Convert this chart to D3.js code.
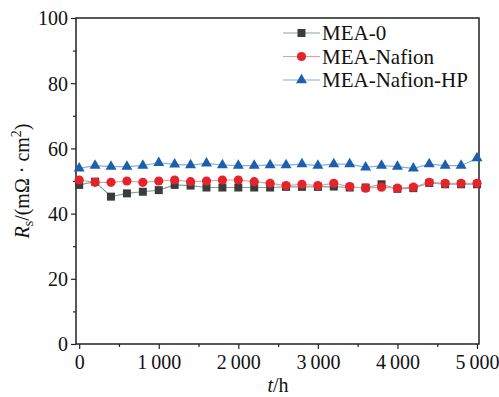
<!DOCTYPE html>
<html>
<head>
<meta charset="utf-8">
<script src="https://cdn.jsdelivr.net/npm/d3@7"></script>
<style>
  body { margin: 0; background: #fff; }
  svg text { font-family: "Liberation Serif", "Times New Roman", serif; fill: #111; }
</style>
</head>
<body>
<div id="chart"></div>
<script>
// time (h)
const hours = [0, 200, 400, 600, 800, 1000, 1200, 1400, 1600, 1800, 2000, 2200, 2400,
  2600, 2800, 3000, 3200, 3400, 3600, 3800, 4000, 4200, 4400, 4600, 4800, 5000];

// Rs, mΩ·cm²
const mea0 = [48.8, 49.8, 45.2, 46.2, 46.7, 47.2, 48.8, 48.6, 48.0, 48.0, 48.0, 48.0, 48.0,
  48.2, 48.2, 48.2, 48.3, 48.0, 48.0, 49.0, 47.6, 47.8, 49.4, 49.0, 49.0, 49.0];
const meaNafion = [50.3, 49.6, 49.6, 50.0, 49.6, 50.0, 50.3, 49.8, 50.0, 50.3, 50.3, 49.8, 49.3,
  48.6, 49.0, 48.6, 49.3, 48.3, 47.8, 48.1, 47.8, 48.1, 49.6, 49.3, 49.3, 49.3];
const meaNafionHP = [53.9, 54.7, 54.4, 54.4, 54.7, 55.6, 55.1, 54.9, 55.4, 54.9, 54.7, 54.7, 54.9,
  54.9, 55.2, 54.7, 55.2, 55.2, 54.2, 54.7, 54.4, 53.9, 55.2, 54.7, 54.7, 57.0];

const seriesNames = ["MEA-0", "MEA-Nafion", "MEA-Nafion-HP"];
const xTicks = [0, 1000, 2000, 3000, 4000, 5000];
const yTicks = [0, 20, 40, 60, 80, 100];

const width = 499, height = 397;
const serif = "'Liberation Serif', 'Times New Roman', serif";
const svg = d3.select("#chart").append("svg")
  .attr("width", width)
  .attr("height", height)
  .attr("font-family", serif);

const x = d3.scaleLinear().domain([-40, 5025]).range([76, 479]);
const y = d3.scaleLinear().domain([0, 100]).range([344, 18]);

// series styles
const series = [
  { name: seriesNames[0], values: mea0, color: "#3b3b3b", line: "#86a3a3", shape: d3.symbolSquare, size: 64 },
  { name: seriesNames[1], values: meaNafion, color: "#e5232b", line: "#f29a9a", shape: d3.symbolCircle, size: 66 },
  { name: seriesNames[2], values: meaNafionHP, color: "#1d5fae", line: "#7fb0de", shape: d3.symbolTriangle, size: 52 }
];

// frame
svg.append("rect")
  .attr("x", x.range()[0]).attr("y", y.range()[1])
  .attr("width", x.range()[1] - x.range()[0])
  .attr("height", y.range()[0] - y.range()[1])
  .attr("fill", "none").attr("stroke", "#222").attr("stroke-width", 1.5);

// x axis
const xAxis = svg.append("g").attr("transform", `translate(0,${y(0)})`);
xAxis.call(d3.axisBottom(x).tickValues(d3.range(500, 5000, 1000)).tickSize(3).tickFormat(""))
  .call(g => g.select(".domain").remove());
xAxis.append("g").call(d3.axisBottom(x).tickValues(xTicks).tickSize(5).tickPadding(6)
    .tickFormat(d => d >= 1000 ? Math.floor(d / 1000) + "\u2009" + "000" : d))
  .call(g => g.select(".domain").remove())
  .attr("font-family", serif)
  .selectAll("text").attr("font-size", 20).style("fill", "#111");
xAxis.attr("font-family", serif).selectAll("line").attr("stroke", "#222").attr("stroke-width", 1.2);

// y axis
const yAxis = svg.append("g").attr("transform", `translate(${x.range()[0]},0)`);
yAxis.call(d3.axisLeft(y).tickValues(d3.range(10, 100, 20)).tickSize(3).tickFormat(""))
  .call(g => g.select(".domain").remove());
yAxis.append("g").call(d3.axisLeft(y).tickValues(yTicks).tickSize(5).tickPadding(3))
  .call(g => g.select(".domain").remove())
  .attr("font-family", serif)
  .selectAll("text").attr("font-size", 20).attr("dy", "0.34em").style("fill", "#111");
yAxis.attr("font-family", serif).selectAll("line").attr("stroke", "#222").attr("stroke-width", 1.2);

// axis titles
svg.append("text")
  .attr("x", 278).attr("y", 392)
  .attr("text-anchor", "middle").attr("font-size", 20)
  .call(t => {
    t.append("tspan").attr("font-style", "italic").text("t");
    t.append("tspan").text("/h");
  });

svg.append("text")
  .attr("transform", "translate(29,181) rotate(-90)")
  .attr("text-anchor", "middle").attr("font-size", 20)
  .call(t => {
    t.append("tspan").attr("font-style", "italic").text("R");
    t.append("tspan").attr("font-size", 14).attr("dy", 4).text("s");
    t.append("tspan").attr("dy", -4).text("/(m\u03A9 \u00B7 cm");
    t.append("tspan").attr("font-size", 14).attr("dy", -8).text("2");
    t.append("tspan").attr("dy", 8).text(")");
  });

// lines and markers
const line = d3.line()
  .x((d, i) => x(hours[i]))
  .y(d => y(d));

series.forEach(s => {
  svg.append("path")
    .datum(s.values)
    .attr("fill", "none")
    .attr("stroke", s.line)
    .attr("stroke-width", 1.2)
    .attr("d", line);
});

series.forEach(s => {
  const sym = d3.symbol().type(s.shape).size(s.size);
  svg.append("g").selectAll("path")
    .data(s.values)
    .join("path")
    .attr("transform", (d, i) => `translate(${x(hours[i])},${y(d)})`)
    .attr("d", sym)
    .attr("fill", s.color);
});

// legend
const legend = svg.append("g");
series.forEach((s, i) => {
  const ly = 33 + i * 23.5;
  const row = legend.append("g").attr("transform", `translate(283,${ly})`);
  row.append("line").attr("x1", 0).attr("x2", 37).attr("y1", 0).attr("y2", 0)
    .attr("stroke", s.line).attr("stroke-width", 1.2);
  row.append("path").attr("transform", "translate(18.5,0)")
    .attr("d", d3.symbol().type(s.shape).size(s.size)).attr("fill", s.color);
  row.append("text").attr("x", 39).attr("y", 0).attr("dy", "0.35em")
    .attr("font-size", 21).text(s.name);
});
</script>
</body>
</html>
